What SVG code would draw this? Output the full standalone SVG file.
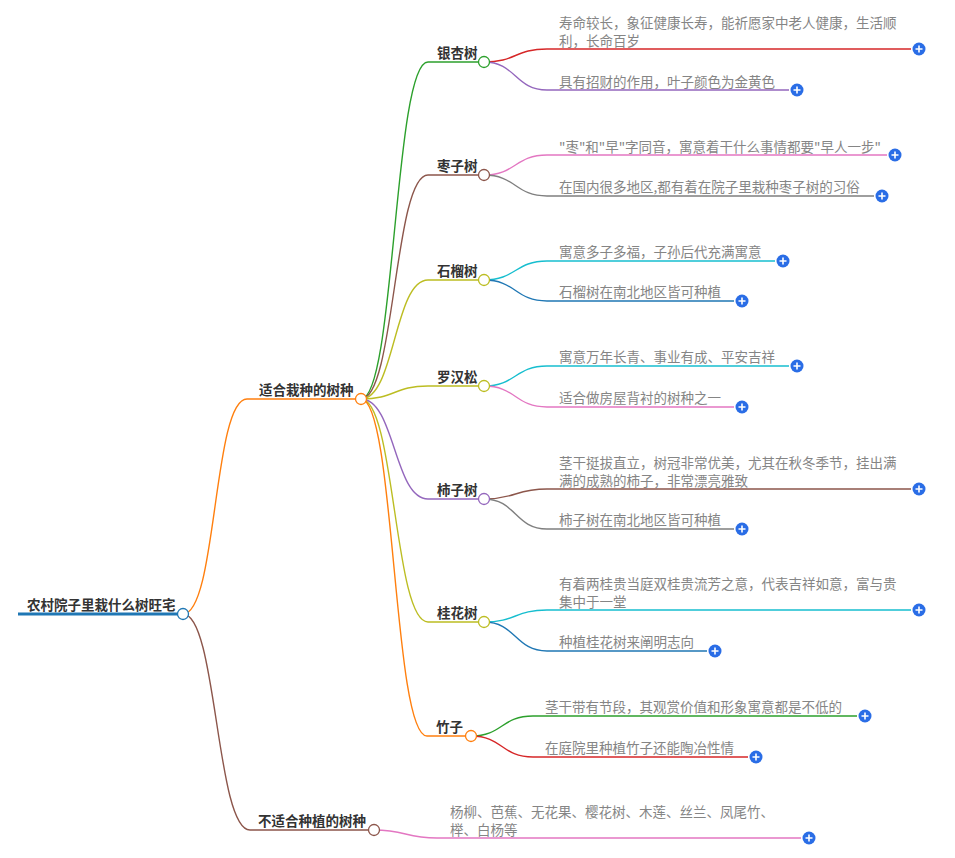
<svg xmlns="http://www.w3.org/2000/svg" width="955" height="858" viewBox="0 0 955 858">
<style>
text{font-family:"Noto Sans CJK SC","Microsoft YaHei",sans-serif;font-size:13.5px}
.t0,.t1,.t2{fill:#333;font-weight:bold}
.t3{fill:#858585}
.c{fill:none;stroke-width:1.4}
.n{fill:#fff;stroke-width:1.3}
.pb{fill:#2a6de6}
.pl{stroke:#fff;stroke-width:1.6;fill:none}
</style>
<defs>
<g id="plus"><circle r="6.5" class="pb"/><path class="pl" d="M-3.5 0H3.5M0 -3.5V3.5"/></g>
</defs>
<rect width="955" height="858" fill="#fff"/>
<g id="connectors">
<path class="c" stroke="#ff7f0e" d="M183 614C217 614 213 399 247 399H356"/>
<path class="c" stroke="#8c564b" d="M183 614C217 614 216 830 250 830H369"/>
<path class="c" stroke="#2ca02c" d="M361 399C395 399 394 62 428 62H479"/>
<path class="c" stroke="#8c564b" d="M361 399C395 399 394 175 428 175H479"/>
<path class="c" stroke="#bcbd22" d="M361 399C395 399 394 280 428 280H479"/>
<path class="c" stroke="#bcbd22" d="M361 399C395 399 394 386 428 386H479"/>
<path class="c" stroke="#9467bd" d="M361 399C395 399 394 499 428 499H479"/>
<path class="c" stroke="#bcbd22" d="M361 399C395 399 394 622 428 622H479"/>
<path class="c" stroke="#ff7f0e" d="M361 399C395 399 393 736 427 736H466"/>
<path class="c" stroke="#d62728" d="M484 62C516 62 515 49 547 49H911"/>
<path class="c" stroke="#9467bd" d="M484 62C516 62 515 90 547 90H789"/>
<path class="c" stroke="#e377c2" d="M484 175C516 175 515 155 547 155H887"/>
<path class="c" stroke="#7f7f7f" d="M484 175C516 175 515 196 547 196H874"/>
<path class="c" stroke="#17becf" d="M484 280C516 280 515 261 547 261H775"/>
<path class="c" stroke="#1f77b4" d="M484 280C516 280 515 301 547 301H734"/>
<path class="c" stroke="#17becf" d="M484 386C516 386 515 366 547 366H789"/>
<path class="c" stroke="#e377c2" d="M484 386C516 386 515 407 547 407H734"/>
<path class="c" stroke="#8c564b" d="M484 499C516 499 515 489 547 489H911"/>
<path class="c" stroke="#7f7f7f" d="M484 499C516 499 515 529 547 529H734"/>
<path class="c" stroke="#17becf" d="M484 622C516 622 515 610 547 610H911"/>
<path class="c" stroke="#1f77b4" d="M484 622C516 622 515 651 547 651H707"/>
<path class="c" stroke="#2ca02c" d="M471 736C503 736 501 716 533 716H857"/>
<path class="c" stroke="#d62728" d="M471 736C503 736 501 757 533 757H748"/>
<path class="c" stroke="#e377c2" d="M374 830C406 830 405 838 437 838H801"/>
</g>
<g id="root">
<line x1="18" y1="614" x2="178" y2="614" stroke="#1f77b4" stroke-width="3"/>
<text class="t0" x="27" y="610">农村院子里栽什么树旺宅</text>
<circle class="n" cx="183" cy="614" r="5.5" stroke="#1f77b4"/>
</g>
<g id="n-suitable">
<text class="t1" x="259" y="395">适合栽种的树种</text>
<circle class="n" cx="361" cy="399" r="5.5" stroke="#ff7f0e"/>
</g>
<g id="n-unsuitable">
<text class="t1" x="258" y="826">不适合种植的树种</text>
<circle class="n" cx="374" cy="830" r="5.5" stroke="#8c564b"/>
</g>
<g id="n-yinxing">
<text class="t2" x="437" y="58">银杏树</text>
<circle class="n" cx="484" cy="62" r="5.5" stroke="#2ca02c"/>
</g>
<g id="n-zaozi">
<text class="t2" x="437" y="171">枣子树</text>
<circle class="n" cx="484" cy="175" r="5.5" stroke="#8c564b"/>
</g>
<g id="n-shiliu">
<text class="t2" x="437" y="276">石榴树</text>
<circle class="n" cx="484" cy="280" r="5.5" stroke="#bcbd22"/>
</g>
<g id="n-luohansong">
<text class="t2" x="437" y="382">罗汉松</text>
<circle class="n" cx="484" cy="386" r="5.5" stroke="#bcbd22"/>
</g>
<g id="n-shizi">
<text class="t2" x="437" y="495">柿子树</text>
<circle class="n" cx="484" cy="499" r="5.5" stroke="#9467bd"/>
</g>
<g id="n-guihua">
<text class="t2" x="437" y="618">桂花树</text>
<circle class="n" cx="484" cy="622" r="5.5" stroke="#bcbd22"/>
</g>
<g id="n-zhuzi">
<text class="t2" x="436" y="732">竹子</text>
<circle class="n" cx="471" cy="736" r="5.5" stroke="#ff7f0e"/>
</g>
<g id="l-yinxing-1">
<text class="t3" x="559" y="28">寿命较长，象征健康长寿，能祈愿家中老人健康，生活顺<tspan x="559" dy="18">利，长命百岁</tspan></text>
<use href="#plus" x="919" y="49"/>
</g>
<g id="l-yinxing-2">
<text class="t3" x="559" y="87">具有招财的作用，叶子颜色为金黄色</text>
<use href="#plus" x="797" y="90"/>
</g>
<g id="l-zaozi-1">
<text class="t3" x="559" y="152">"枣"和"早"字同音，寓意着干什么事情都要"早人一步"</text>
<use href="#plus" x="895" y="155"/>
</g>
<g id="l-zaozi-2">
<text class="t3" x="559" y="192">在国内很多地区,都有着在院子里栽种枣子树的习俗</text>
<use href="#plus" x="882" y="196"/>
</g>
<g id="l-shiliu-1">
<text class="t3" x="559" y="257">寓意多子多福，子孙后代充满寓意</text>
<use href="#plus" x="783" y="261"/>
</g>
<g id="l-shiliu-2">
<text class="t3" x="559" y="297">石榴树在南北地区皆可种植</text>
<use href="#plus" x="742" y="301"/>
</g>
<g id="l-luohansong-1">
<text class="t3" x="559" y="362">寓意万年长青、事业有成、平安吉祥</text>
<use href="#plus" x="797" y="366"/>
</g>
<g id="l-luohansong-2">
<text class="t3" x="559" y="403">适合做房屋背衬的树种之一</text>
<use href="#plus" x="742" y="407"/>
</g>
<g id="l-shizi-1">
<text class="t3" x="559" y="468">茎干挺拔直立，树冠非常优美，尤其在秋冬季节，挂出满<tspan x="559" dy="18">满的成熟的柿子，非常漂亮雅致</tspan></text>
<use href="#plus" x="919" y="489"/>
</g>
<g id="l-shizi-2">
<text class="t3" x="559" y="525">柿子树在南北地区皆可种植</text>
<use href="#plus" x="742" y="529"/>
</g>
<g id="l-guihua-1">
<text class="t3" x="559" y="589">有着两桂贵当庭双桂贵流芳之意，代表吉祥如意，富与贵<tspan x="559" dy="18">集中于一堂</tspan></text>
<use href="#plus" x="919" y="610"/>
</g>
<g id="l-guihua-2">
<text class="t3" x="559" y="647">种植桂花树来阐明志向</text>
<use href="#plus" x="715" y="651"/>
</g>
<g id="l-zhuzi-1">
<text class="t3" x="545" y="712">茎干带有节段，其观赏价值和形象寓意都是不低的</text>
<use href="#plus" x="865" y="716"/>
</g>
<g id="l-zhuzi-2">
<text class="t3" x="545" y="753">在庭院里种植竹子还能陶冶性情</text>
<use href="#plus" x="756" y="757"/>
</g>
<g id="l-unsuitable-1">
<text class="t3" x="450" y="817">杨柳、芭蕉、无花果、樱花树、木莲、丝兰、凤尾竹、<tspan x="450" dy="18">榉、白杨等</tspan></text>
<use href="#plus" x="809" y="838"/>
</g>
</svg>
